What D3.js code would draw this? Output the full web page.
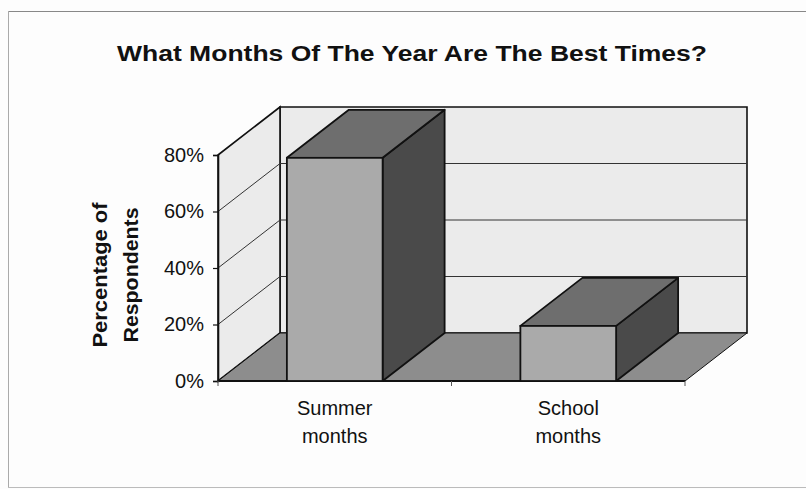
<!DOCTYPE html>
<html>
<head>
<meta charset="utf-8">
<script src="https://cdn.jsdelivr.net/npm/d3@7"></script>
<style>
  html, body { margin: 0; padding: 0; background: #fdfdfd; }
  svg { display: block; }
  text { font-family: "Liberation Sans", Arial, sans-serif; fill: #111; }
</style>
</head>
<body>
<svg id="chart" width="806" height="489"></svg>
<script>
// Survey results: share of respondents naming each period as the best time of year
const categories = ["Summer months", "School months"];
const categoryLines = [["Summer", "months"], ["School", "months"]];
const values = [79, 19.5];
const yTicks = [0, 20, 40, 60, 80];
const yTickLabels = ["0%", "20%", "40%", "60%", "80%"];
const title = "What Months Of The Year Are The Best Times?";
const yTitleLines = ["Percentage of", "Respondents"];

const W = 806, H = 489;
const svg = d3.select("#chart");

// Front plane of the 3D box and the depth offset to the back plane
const plot = { left: 218, right: 685, top: 155, bottom: 381 };
const depth = { dx: 62, dy: -48 };

const y = d3.scaleLinear().domain([0, 80]).range([plot.bottom, plot.top]);
const x = d3.scaleBand().domain(categories).range([plot.left, plot.right])
  .paddingInner(0.59).paddingOuter(0.295);

const colors = {
  wall: "#ebebeb", floor: "#8d8d8d",
  front: "#aaaaaa", top: "#6e6e6e", side: "#4a4a4a",
  edge: "#111", grid: "#333"
};

const poly = pts => "M" + pts.map(p => p.join(",")).join("L") + "Z";
const back = ([px, py]) => [px + depth.dx, py + depth.dy];

// Outer frame
svg.append("line").attr("x1", 8).attr("x2", W).attr("y1", 11.5).attr("y2", 11.5)
  .attr("stroke", "#888").attr("stroke-width", 1.2);
svg.append("line").attr("x1", 8.5).attr("x2", 8.5).attr("y1", 11).attr("y2", 488)
  .attr("stroke", "#aaa").attr("stroke-width", 1);
svg.append("line").attr("x1", 8).attr("x2", W).attr("y1", 487.5).attr("y2", 487.5)
  .attr("stroke", "#bbb").attr("stroke-width", 1);

// Title
svg.append("text").attr("x", 412).attr("y", 61).attr("text-anchor", "middle")
  .attr("font-size", 22).attr("font-weight", "bold")
  .attr("textLength", 590).attr("lengthAdjust", "spacingAndGlyphs")
  .text(title);

const y0 = y(0), yMax = y(80);
const L = plot.left, R = plot.right;

// Back wall
svg.append("path")
  .attr("d", poly([back([L, yMax]), back([R, yMax]), back([R, y0]), back([L, y0])]))
  .attr("fill", colors.wall).attr("stroke", colors.edge).attr("stroke-width", 1.6);

// Left side wall
svg.append("path")
  .attr("d", poly([[L, yMax], back([L, yMax]), back([L, y0]), [L, y0]]))
  .attr("fill", colors.wall).attr("stroke", colors.edge).attr("stroke-width", 1.6);

// Gridlines on both walls
const gridTicks = yTicks.filter(t => t > 0 && t < 80);
svg.append("g").selectAll("path").data(gridTicks).join("path")
  .attr("d", t => {
    const fy = y(t), b = back([L, fy]), br = back([R, fy]);
    return `M${L},${fy}L${b[0]},${b[1]}L${br[0]},${br[1]}`;
  })
  .attr("fill", "none").attr("stroke", colors.grid).attr("stroke-width", 1);

// Floor
svg.append("path")
  .attr("d", poly([[L, y0], back([L, y0]), back([R, y0]), [R, y0]]))
  .attr("fill", colors.floor).attr("stroke", colors.edge).attr("stroke-width", 1);
svg.append("line").attr("x1", L).attr("x2", R).attr("y1", y0).attr("y2", y0)
  .attr("stroke", colors.edge).attr("stroke-width", 2);

// Bars: front, top and right side faces
const bars = svg.append("g").selectAll("g").data(categories).join("g");
bars.each(function (c, i) {
  const g = d3.select(this);
  const x0 = x(c), x1 = x(c) + x.bandwidth();
  const yt = y(values[i]);
  g.append("path")
    .attr("d", poly([[x1, yt], back([x1, yt]), back([x1, y0]), [x1, y0]]))
    .attr("fill", colors.side).attr("stroke", colors.edge).attr("stroke-width", 1.8)
    .attr("stroke-linejoin", "round");
  g.append("path")
    .attr("d", poly([[x0, yt], back([x0, yt]), back([x1, yt]), [x1, yt]]))
    .attr("fill", colors.top).attr("stroke", colors.edge).attr("stroke-width", 1.8)
    .attr("stroke-linejoin", "round");
  g.append("rect")
    .attr("x", x0).attr("y", yt).attr("width", x.bandwidth()).attr("height", y0 - yt)
    .attr("fill", colors.front).attr("stroke", colors.edge).attr("stroke-width", 1.8);
});

// Value axis
const yAxis = d3.axisLeft(y).tickValues(yTicks)
  .tickFormat((d, i) => yTickLabels[i]).tickSize(5).tickPadding(9);
const gy = svg.append("g").attr("transform", `translate(${L},0)`).call(yAxis);
gy.select(".domain").attr("stroke", colors.edge).attr("stroke-width", 1.6);
gy.selectAll(".tick line").attr("stroke", colors.edge).attr("stroke-width", 1.2);
gy.selectAll(".tick text").attr("font-size", 20).attr("fill", "#111")
  .attr("font-family", "Liberation Sans, Arial, sans-serif");

// Category axis ticks at band boundaries
const boundaries = [L, (x(categories[0]) + x.bandwidth() + x(categories[1])) / 2, R];
svg.append("g").selectAll("line").data(boundaries).join("line")
  .attr("x1", d => d).attr("x2", d => d).attr("y1", y0).attr("y2", y0 + 5)
  .attr("stroke", "#555").attr("stroke-width", 1);

// Category labels (two lines each)
const cat = svg.append("g").selectAll("text").data(categories).join("text")
  .attr("text-anchor", "middle").attr("font-size", 20);
cat.each(function (c, i) {
  const cx = x(c) + x.bandwidth() / 2;
  d3.select(this).selectAll("tspan").data(categoryLines[i]).join("tspan")
    .attr("x", cx).attr("y", (d, j) => 415 + j * 28).text(d => d);
});

// Value axis title, two rotated lines
const titleLengths = [145, 135];
svg.append("g").attr("transform", "translate(0,275) rotate(-90)")
  .selectAll("text").data(yTitleLines).join("text")
  .attr("x", 0).attr("y", (d, j) => 107 + j * 31)
  .attr("text-anchor", "middle").attr("font-size", 20).attr("font-weight", "bold")
  .attr("textLength", (d, j) => titleLengths[j]).attr("lengthAdjust", "spacingAndGlyphs")
  .text(d => d);
</script>
</body>
</html>
